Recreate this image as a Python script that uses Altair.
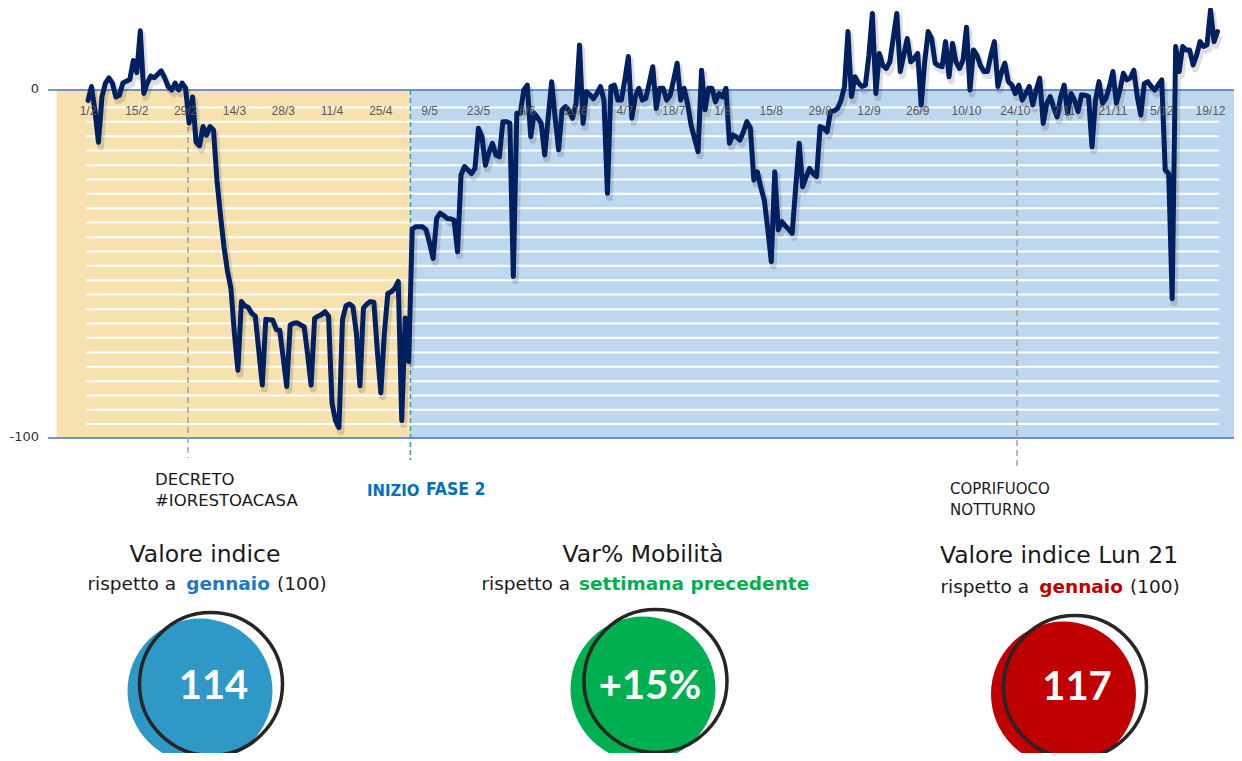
import altair as alt
import pandas as pd
import numpy as np

# ---------------- data ----------------
START_DATE = "2020-02-01"
mobility = [
    -3, 1, -6, -15, -2, 2, 3.5, 2, -2, -1.5,
    2, 2.5, 3, 8.5, 5, 17, -1, 2, 4, 3.5,
    4.5, 5.5, 3.5, 1, 0, 2, 0, 2, 0.5, -9.5,
    -2, -15, -16, -10.5, -13, -10.5, -11.5, -26, -36, -45,
    -52, -57, -70, -80.5, -60.8, -62, -62.5, -64.2, -65, -75,
    -84.8, -65.9, -66, -66.1, -68.8, -69, -77, -85.2, -67.5, -67,
    -66.9, -67.5, -68, -76, -84.8, -65.6, -65, -64.5, -63.7, -65,
    -90, -95, -97, -66, -62, -61.5, -62.3, -70, -85, -62.7,
    -61.5, -60.8, -61, -75, -87, -70, -58.5, -58, -57, -55,
    -95, -65.5, -78, -40, -39.3, -39.3, -39.3, -40.2, -44, -48.4,
    -36.9, -35.4, -36, -36.9, -37, -37.4, -46.5, -24.4, -22, -23,
    -24, -22.5, -11, -13.4, -21.6, -18, -15.3, -18.7, -19.2, -9.1,
    -9.1, -9.5, -53.6, -6.7, -6.7, 0, 1.4, -13.4, -6.7, -8,
    -9.6, -18.7, -8, 2.4, -8, -17.2, -5.7, -4.8, -6, -8.1,
    -3.8, 12.9, -9.6, -0.5, -1.4, -2.5, -1, 1, -2.9, -29.7,
    1, 1.4, -2.9, -2.9, 3, 9.6, -8.1, -1.9, 0.5, -2.9,
    -2.4, 2, 6.7, -5.3, 0.5, 0.5, -2.9, -1.5, 3, 7.7,
    -2.9, 0.5, -4, -10.1, -14, -17.7, 5.7, -5.7, 0.5, 0.5,
    -3.4, -1, -2, 0.5, -15.3, -12.9, -13.5, -14.4, -12, -9.1,
    -11, -25.9, -23.5, -28, -31.6, -40, -49.3, -23.5, -40.2, -37.8,
    -39, -40, -41.2, -28, -15.3, -27.8, -25, -22.5, -24, -24.9,
    -10.5, -11, -12, -6.2, -6, -5.3, -3, 1, 16.8, -1.9,
    3.8, 2, 1, 1.4, 10, 22, -1, 10.5, 7, 6.2,
    8.1, 15, 22, 5.3, 10, 14.8, 8.1, 9, 10.5, -4.3,
    8, 16.8, 14.8, 7.7, 7, 6.7, 13.9, 3.8, 13.4, 8,
    6.2, 8.6, 18, 0, 11.5, 10, 7, 5.3, 5.3, 10,
    13.9, 1, 5, 7.7, 2.4, 1.5, -1, 1.4, -2.9, -1,
    1, -4.3, 0, 3.4, -9.6, -4, -1.9, -5, -7.7, -2,
    1.4, -6.7, -1, -3, -6.2, -1.4, -1.5, -1.9, -16.3, -3,
    2.4, -3.8, -2.4, 1, 5.3, -3.8, 0, 4.8, 2.9, 3.5,
    5.7, -2, -7.2, 1.9, 2.4, 1, 0, 1.5, 2.9, -23,
    -24, -60, 12.5, 5.3, 12.5, 11.5, 11.5, 7.2, 10, 13.9,
    12.5, 13, 23, 13.9, 16.8,
]
tick_labels = ["1/2", "15/2", "29/2", "14/3", "28/3", "11/4", "25/4", "9/5",
               "23/5", "6/6", "20/6", "4/7", "18/7", "1/8", "15/8", "29/8",
               "12/9", "26/9", "10/10", "24/10", "7/11", "21/11", "5/12", "19/12"]
stripe_values = [-5, -9.1, -13.3, -17.4, -21.6, -25.7, -29.8, -34, -38.1, -42.3,
                 -46.4, -50.5, -54.7, -58.8, -63, -67.1, -71.2, -75.4, -79.5,
                 -83.7, -87.8, -91.9, -96]
event_names = ["DECRETO #IORESTOACASA", "INIZIO FASE 2", "COPRIFUOCO NOTTURNO"]
event_days = [28.7, 92.5, 266.5]
indicator_values = ["114", "+15%", "117"]

dates = pd.date_range(START_DATE, periods=len(mobility), freq="D")
df = pd.DataFrame({"day": np.arange(len(mobility)), "value": mobility,
                   "date": dates.strftime("%d/%m")})
label_days = [list(dates.strftime("%-d/%-m")).index(t) for t in tick_labels]
ticks_df = pd.DataFrame({"day": label_days, "label": tick_labels})
stripes_df = pd.DataFrame({"v": stripe_values, "x0": -0.5, "x1": 324.5})
events_df = pd.DataFrame({"name": event_names, "day": event_days})

# ---------------- scales ----------------
X = alt.Scale(domain=[0, 324], range=[80, 1209.5], nice=False, zero=False)
Y = alt.Scale(domain=[-100, 0], range=[430, 82], nice=False, zero=False)
FONT = "DejaVu Sans"

bands_df = pd.DataFrame({"start": [-9, event_days[1]], "end": [event_days[1], 330.5],
                         "top": [0, 0], "bottom": [-100, -100],
                         "fill": ["#F7E1AE", "#BDD7EE"]})
bands = alt.Chart(bands_df).mark_rect().encode(
    x=alt.X("start:Q", scale=X, axis=None), x2="end:Q",
    y=alt.Y("top:Q", scale=Y, axis=None), y2="bottom:Q",
    color=alt.Color("fill:N", scale=None))

stripes = alt.Chart(stripes_df).mark_rule(color="white", strokeWidth=2).encode(
    x=alt.X("x0:Q", scale=X, axis=None), x2="x1:Q",
    y=alt.Y("v:Q", scale=Y, axis=None))

base_df = pd.DataFrame({"v": [0, -100], "x0": -11.5, "x1": 330.5})
baselines = alt.Chart(base_df).mark_rule(color="#4472C4", strokeWidth=1.5).encode(
    x=alt.X("x0:Q", scale=X, axis=None), x2="x1:Q",
    y=alt.Y("v:Q", scale=Y, axis=None))

ylab = alt.Chart(pd.DataFrame({"v": [0, -100], "t": ["0", "-100"]})).mark_text(
    align="right", baseline="middle", fontSize=13, color="#333333", font=FONT, dy=-1
).encode(x=alt.value(31), y=alt.Y("v:Q", scale=Y, axis=None), text="t:N")

xlab = alt.Chart(ticks_df).mark_text(
    align="center", baseline="middle", fontSize=12, color="#595959", font="Liberation Sans"
).encode(x=alt.X("day:Q", scale=X, axis=None), y=alt.value(103), text="label:N")

def event_rule(i, color, y0, y1, dash):
    return alt.Chart(events_df.iloc[[i]]).mark_rule(
        color=color, strokeWidth=1.5, strokeDash=dash).encode(
        x=alt.X("day:Q", scale=X, axis=None), y=alt.value(y0), y2=alt.value(y1))

ev1 = event_rule(0, "#A0A0A0", 89, 450, [6, 4])
ev2 = event_rule(1, "#2A9DC0", 82, 452, [5, 3])
ev3 = event_rule(2, "#A0A0A0", 112, 460, [6, 4])

shadow = alt.Chart(df).mark_line(color="#000000", opacity=0.13, strokeWidth=7,
                                 xOffset=2, yOffset=4, strokeJoin="round").encode(
    x=alt.X("day:Q", scale=X, axis=None), y=alt.Y("value:Q", scale=Y, axis=None))
line = alt.Chart(df).mark_line(color="#002060", strokeWidth=5, strokeJoin="round",
                               strokeCap="round").encode(
    x=alt.X("day:Q", scale=X, axis=None), y=alt.Y("value:Q", scale=Y, axis=None))

one = pd.DataFrame({"k": [0]})

def txt(text, x, y, size, color="#1a1a1a", align="left", weight="normal", font=FONT):
    return alt.Chart(one).mark_text(
        text=text, align=align, baseline="middle", fontSize=size, color=color,
        fontWeight=weight, font=font).encode(x=alt.value(x), y=alt.value(y))

COND = "DejaVu Sans Condensed"
texts = [
    txt("DECRETO", 147, 472, 16.5),
    txt("#IORESTOACASA", 147, 493, 16.5),
    txt("INIZIO", 359, 483, 16.5, "#0070C0", weight="bold", font=COND),
    txt("FASE 2", 418, 482, 17.5, "#0070C0", weight="bold", font=COND),
    txt("COPRIFUOCO", 942, 481, 15),
    txt("NOTTURNO", 942, 502, 15),
    txt("Valore indice", 197, 547, 23.5, align="center"),
    txt("rispetto a", 168, 576, 18.5, align="right"),
    txt("gennaio", 220, 576, 18.5, "#1F78C1", align="center", weight="bold"),
    txt("(100)", 269, 576, 18.5),
    txt("Var% Mobilità", 635, 547, 23.5, align="center"),
    txt("rispetto a", 562, 576, 18.5, align="right"),
    txt("settimana precedente", 571, 576, 18.5, "#00B050", weight="bold"),
    txt("Valore indice Lun 21", 1051, 548, 23.5, align="center"),
    txt("rispetto a", 1021, 579, 18.5, align="right"),
    txt("gennaio", 1073, 579, 18.5, "#C00000", align="center", weight="bold"),
    txt("(100)", 1122, 579, 18.5),
]

circ = []
# (fill colour, fill centre x, fill centre y, outline centre x, outline centre y, text x, text y)
specs = [("#2E98C6", 192, 683, 203, 676, 205.5, 679),
         ("#00B050", 635, 681, 647.5, 673, 642, 679),
         ("#C00000", 1055.5, 686, 1067, 679, 1069, 680)]
for (col, fx, fy, ox, oy, tx, ty), val in zip(specs, indicator_values):
    circ.append(alt.Chart(one).mark_circle(color=col, opacity=1, size=145 ** 2).encode(
        x=alt.value(fx), y=alt.value(fy)))
    circ.append(alt.Chart(one).mark_point(shape="circle", filled=False, color="#262626",
                                          strokeWidth=3.5, opacity=1, size=143 ** 2).encode(
        x=alt.value(ox), y=alt.value(oy)))
    circ.append(txt(val, tx, ty, 40, "white", align="center", weight="bold", font="Lato"))

chart = alt.layer(bands, stripes, baselines, ev1, ev2, ev3, shadow, line, ylab, xlab,
                  *texts, *circ).properties(
    width=1226, height=745, padding=0,
    autosize=alt.AutoSizeParams(type="none")
).configure_view(stroke=None)

chart.save("out.html", embed_options={"renderer": "svg", "actions": False})
